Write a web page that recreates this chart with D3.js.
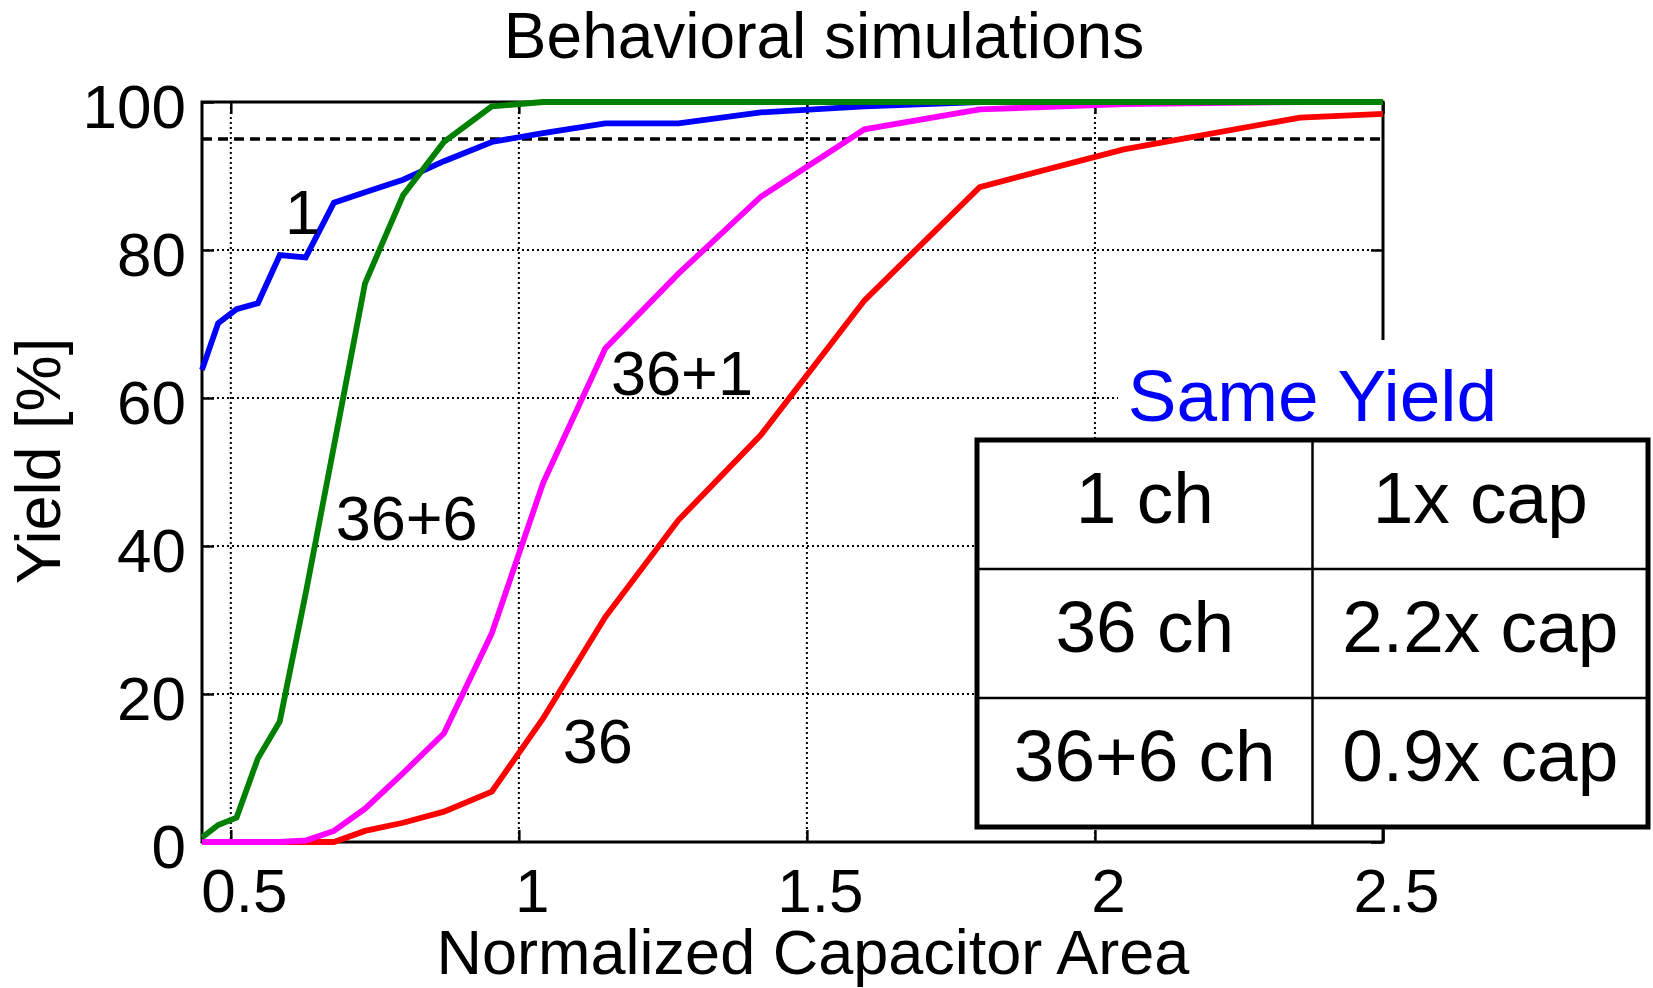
<!DOCTYPE html>
<html>

<head>
    <meta charset="utf-8" />
    <script src="https://cdn.jsdelivr.net/npm/d3@7"></script>
    <title>Behavioral simulations</title>
    <style>
        html,
        body {
            margin: 0;
            padding: 0;
            background: #fff;
        }

        svg {
            display: block;
            font-family: "Liberation Sans", Arial, sans-serif;
        }
    </style>
</head>

<body>
    <div id="svg-canvas"></div>
    <script>
        // normalized capacitor area (shared x grid)
        var area = [0.45, 0.478, 0.51, 0.547, 0.585, 0.63, 0.679, 0.733, 0.799, 0.87,
            0.953, 1.042, 1.15, 1.277, 1.42, 1.6, 1.8, 2.05, 2.356, 2.5];

        // yield [%] per configuration
        var yield1 = [63.8, 70.1, 72.0, 72.8, 79.3, 79.0, 86.4, 87.8, 89.5, 92.0,
            94.6, 95.8, 97.1, 97.1, 98.6, 99.4, 100, 100, 100, 100];
        var yield36p6 = [0.6, 2.3, 3.3, 11.3, 16.3, 33.6, 53.5, 75.5, 87.4, 94.6,
            99.4, 100, 100, 100, 100, 100, 100, 100, 100, 100];
        var yield36p1 = [0, 0, 0, 0, 0, 0.2, 1.5, 4.5, 9.3, 14.7,
            28.2, 48.5, 66.7, 76.8, 87.2, 96.3, 99.0, 99.7, 100, 100];
        var yield36 = [0, 0, 0, 0, 0, 0, 0, 1.5, 2.6, 4.1,
            6.8, 16.7, 30.4, 43.5, 55.0, 73.2, 88.5, 93.6, 97.9, 98.4];

        var xTicks = [0.5, 1, 1.5, 2, 2.5];
        var yTicks = [0, 20, 40, 60, 80, 100];
        var targetYield = 95;

        // curve labels: text, x, y (data units)
        var curveLabels = [
            ['1', 0.594, 82.2],
            ['36+6', 0.682, 40.8],
            ['36+1', 1.16, 60.4],
            ['36', 1.076, 10.7]
        ];

        var tableTitle = 'Same Yield';
        var tableRows = [
            ['1 ch', '1x cap'],
            ['36 ch', '2.2x cap'],
            ['36+6 ch', '0.9x cap']
        ];
    </script>
    <script>
        var W = 1653, H = 988;
        var margin = { left: 202, top: 102 };
        var width = 1181, height = 740;

        var svg = d3.select('#svg-canvas').append('svg')
            .attr('width', W)
            .attr('height', H);

        var g = svg.append('g')
            .attr('transform', 'translate(' + margin.left + ',' + margin.top + ')');

        var x = d3.scaleLinear().domain([0.45, 2.5]).range([0, width]);
        var y = d3.scaleLinear().domain([0, 100]).range([height, 0]);

        // dotted grid
        g.append('g').selectAll('line')
            .data(xTicks.filter(d => d < 2.5))
            .join('line')
            .attr('x1', d => x(d)).attr('x2', d => x(d))
            .attr('y1', 0).attr('y2', height)
            .attr('stroke', '#000')
            .attr('stroke-width', 2)
            .attr('stroke-dasharray', '2,3');

        g.append('g').selectAll('line')
            .data(yTicks.filter(d => d > 0 && d < 100))
            .join('line')
            .attr('x1', 0).attr('x2', width)
            .attr('y1', d => y(d)).attr('y2', d => y(d))
            .attr('stroke', '#000')
            .attr('stroke-width', 2)
            .attr('stroke-dasharray', '2,3');

        // box
        g.append('rect')
            .attr('width', width)
            .attr('height', height)
            .attr('fill', 'none')
            .attr('stroke', '#000')
            .attr('stroke-width', 3);

        // axes with inward ticks
        var axisX = g.append('g')
            .attr('transform', 'translate(0,' + height + ')')
            .call(d3.axisBottom(x).tickValues(xTicks).tickSize(-12).tickPadding(28).tickSizeOuter(0)
                .tickFormat(d3.format('')));

        var axisXTop = g.append('g')
            .call(d3.axisTop(x).tickValues(xTicks).tickSize(-12).tickSizeOuter(0).tickFormat(''));

        var axisY = g.append('g')
            .call(d3.axisLeft(y).tickValues(yTicks).tickSize(-12).tickPadding(16).tickSizeOuter(0));

        var axisYRight = g.append('g')
            .attr('transform', 'translate(' + width + ',0)')
            .call(d3.axisRight(y).tickValues(yTicks).tickSize(-12).tickSizeOuter(0).tickFormat(''));

        [axisX, axisXTop, axisY, axisYRight].forEach(customAxis);

        function customAxis(axis) {
            axis.select('.domain').remove();
            axis.selectAll('line')
                .attr('stroke', '#000')
                .attr('stroke-width', 2.5);
            axis.selectAll('text')
                .attr('fill', '#000')
                .style('font-size', '62px')
                .style('font-family', '"Liberation Sans", Arial, sans-serif');
        }
        axisX.selectAll('text').attr('dx', 13).attr('dy', '0.68em');
        axisY.selectAll('text').attr('dy', '0.41em');

        // 95% target line
        g.append('line')
            .attr('x1', 0).attr('x2', width)
            .attr('y1', y(targetYield)).attr('y2', y(targetYield))
            .attr('stroke', '#000')
            .attr('stroke-width', 3.5)
            .attr('stroke-dasharray', '10,6');

        // curves
        var series = [
            { values: yield36, color: '#ff0000' },
            { values: yield36p1, color: '#ff00ff' },
            { values: yield1, color: '#0000ff' },
            { values: yield36p6, color: '#008000' }
        ];

        var line = d3.line()
            .x((d, i) => x(area[i]))
            .y(d => y(d));

        g.append('g').selectAll('path')
            .data(series)
            .join('path')
            .attr('d', d => line(d.values))
            .attr('fill', 'none')
            .attr('stroke', d => d.color)
            .attr('stroke-width', 5.8)
            .attr('stroke-linejoin', 'miter');

        // curve labels
        g.append('g').selectAll('text')
            .data(curveLabels)
            .join('text')
            .attr('x', d => x(d[1]))
            .attr('y', d => y(d[2]))
            .attr('font-size', 63)
            .attr('fill', '#000')
            .text(d => d[0]);

        // title and axis labels
        svg.append('text')
            .attr('x', 824).attr('y', 58)
            .attr('text-anchor', 'middle')
            .attr('font-size', 64)
            .text('Behavioral simulations');

        svg.append('text')
            .attr('x', 813).attr('y', 974)
            .attr('text-anchor', 'middle')
            .attr('font-size', 63)
            .text('Normalized Capacitor Area');

        svg.append('text')
            .attr('transform', 'translate(60,461) rotate(-90)')
            .attr('text-anchor', 'middle')
            .attr('font-size', 63)
            .text('Yield [%]');

        // "Same Yield" table overlay
        var tbl = { left: 977, top: 440, colW: 335.5, rowH: 129 };

        svg.append('rect')
            .attr('x', 1118).attr('y', 340)
            .attr('width', 400).attr('height', 100)
            .attr('fill', '#fff');

        svg.append('text')
            .attr('x', tbl.left + tbl.colW).attr('y', 421)
            .attr('text-anchor', 'middle')
            .attr('font-size', 73)
            .attr('fill', '#0000ff')
            .text(tableTitle);

        var tg = svg.append('g').attr('transform', 'translate(' + tbl.left + ',' + tbl.top + ')');

        tg.append('rect')
            .attr('width', tbl.colW * 2)
            .attr('height', tbl.rowH * tableRows.length)
            .attr('fill', '#fff');

        tg.selectAll('line.row')
            .data(d3.range(1, tableRows.length))
            .join('line')
            .attr('x1', 0).attr('x2', tbl.colW * 2)
            .attr('y1', d => d * tbl.rowH).attr('y2', d => d * tbl.rowH)
            .attr('stroke', '#000').attr('stroke-width', 2.5);

        tg.append('line')
            .attr('x1', tbl.colW).attr('x2', tbl.colW)
            .attr('y1', 0).attr('y2', tbl.rowH * tableRows.length)
            .attr('stroke', '#000').attr('stroke-width', 2.5);

        tg.append('rect')
            .attr('width', tbl.colW * 2)
            .attr('height', tbl.rowH * tableRows.length)
            .attr('fill', 'none')
            .attr('stroke', '#000')
            .attr('stroke-width', 5);

        tableRows.forEach(function (row, r) {
            row.forEach(function (cell, c) {
                tg.append('text')
                    .attr('x', tbl.colW * (c + 0.5))
                    .attr('y', tbl.rowH * (r + 0.5) + 18)
                    .attr('text-anchor', 'middle')
                    .attr('font-size', 73)
                    .attr('fill', '#000')
                    .text(cell);
            });
        });
    </script>
</body>

</html>
